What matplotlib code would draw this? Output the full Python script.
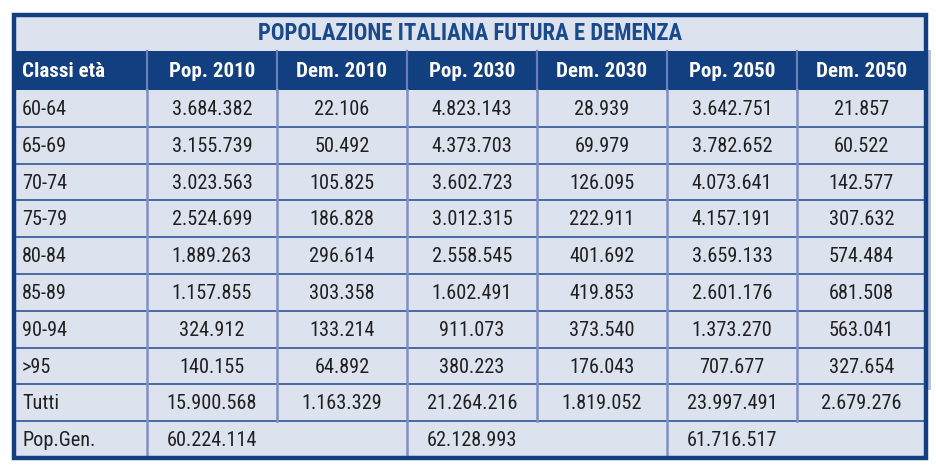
import matplotlib
matplotlib.use("Agg")
import matplotlib.pyplot as plt
from matplotlib import font_manager as fm

title = "POPOLAZIONE ITALIANA FUTURA E DEMENZA"
columns = ["Classi età", "Pop. 2010", "Dem. 2010", "Pop. 2030", "Dem. 2030", "Pop. 2050", "Dem. 2050"]
age_classes = ["60-64", "65-69", "70-74", "75-79", "80-84", "85-89", "90-94", ">95", "Tutti"]
pop_2010 = ["3.684.382", "3.155.739", "3.023.563", "2.524.699", "1.889.263", "1.157.855", "324.912", "140.155", "15.900.568"]
dem_2010 = ["22.106", "50.492", "105.825", "186.828", "296.614", "303.358", "133.214", "64.892", "1.163.329"]
pop_2030 = ["4.823.143", "4.373.703", "3.602.723", "3.012.315", "2.558.545", "1.602.491", "911.073", "380.223", "21.264.216"]
dem_2030 = ["28.939", "69.979", "126.095", "222.911", "401.692", "419.853", "373.540", "176.043", "1.819.052"]
pop_2050 = ["3.642.751", "3.782.652", "4.073.641", "4.157.191", "3.659.133", "2.601.176", "1.373.270", "707.677", "23.997.491"]
dem_2050 = ["21.857", "60.522", "142.577", "307.632", "574.484", "681.508", "563.041", "327.654", "2.679.276"]
popgen_label = "Pop.Gen."
popgen_values = ["60.224.114", "62.128.993", "61.716.517"]

# choose a condensed font if one is installed, otherwise a smaller regular one
fonts = fm.fontManager.ttflist
names = {f.name for f in fonts}
stretch = "normal"
if "Roboto Condensed" in names:
    fam, fs_data, fs_head, fs_title = "Roboto Condensed", 14.6, 15.1, 16.4
elif "Liberation Sans Narrow" in names:
    fam, fs_data, fs_head, fs_title = "Liberation Sans Narrow", 15, 15, 16
elif any(f.name == "DejaVu Sans" and str(f.stretch) in ("condensed", "semi-condensed") for f in fonts):
    fam, fs_data, fs_head, fs_title = "DejaVu Sans", 14, 14, 14.5
    stretch = "condensed"
else:
    fam, fs_data, fs_head, fs_title = "Liberation Sans", 13.5, 13.5, 14

W, H = 936, 465
fig = plt.figure(figsize=(W / 100, H / 100), dpi=100)
ax = fig.add_axes([0, 0, 1, 1])
ax.set_xlim(0, W)
ax.set_ylim(H, 0)
ax.axis("off")

bg = "#dde2ef"
dark = "#123f80"
hline_c = "#1e4a8c"
vline_c = "#8190c2"

left, right, top, bottom = 14, 926, 15, 458
title_bot = 51
head_bot = 90
col_edges = [left, 147, 277, 407, 537, 667, 797, right]
n_rows = len(age_classes) + 1
row_h = (bottom - head_bot) / n_rows
row_edges = [head_bot + i * row_h for i in range(n_rows + 1)]

# shadow at right
ax.add_patch(plt.Rectangle((right, 50), 5, 340, color="#b9c2d8", lw=0, zorder=0))
# background
ax.add_patch(plt.Rectangle((left, top), right - left, bottom - top, color=bg, lw=0, zorder=1))
# header band
ax.add_patch(plt.Rectangle((left, title_bot), right - left, head_bot - title_bot, color=dark, lw=0, zorder=2))

# horizontal lines
for y in row_edges[1:-1]:
    ax.plot([left, right], [y, y], color=hline_c, lw=1.1, zorder=3)

# vertical lines
for i, x in enumerate(col_edges[1:-1], start=1):
    ax.plot([x, x], [title_bot, head_bot], color="#6a7fb5", lw=1.6, zorder=3)
    if i in (2, 4, 6):
        ax.plot([x, x], [head_bot, row_edges[-2]], color=vline_c, lw=1.8, zorder=3)
    else:
        ax.plot([x, x], [head_bot, bottom], color=vline_c, lw=1.8, zorder=3)

# outer border
ax.add_patch(plt.Rectangle((left, top), right - left, bottom - top, fill=False,
                           edgecolor=dark, lw=3.2, zorder=5))

kw = dict(family=fam, fontstretch=stretch, va="center", zorder=6)

ax.text((left + right) / 2, (top + title_bot) / 2 + 1, title, color="#1b4a8c",
        fontsize=fs_title, fontweight="bold", ha="center", **kw)

centers = [(col_edges[i] + col_edges[i + 1]) / 2 for i in range(len(col_edges) - 1)]
head_y = (title_bot + head_bot) / 2 + 1
for i, c in enumerate(columns):
    if i == 0:
        ax.text(left + 8, head_y, c, color="white", fontsize=fs_head, fontweight="bold", ha="left", **kw)
    else:
        ax.text(centers[i], head_y, c, color="white", fontsize=fs_head, fontweight="bold", ha="center", **kw)

series = [pop_2010, dem_2010, pop_2030, dem_2030, pop_2050, dem_2050]
txt_c = "#202020"
for r, lab in enumerate(age_classes):
    y = (row_edges[r] + row_edges[r + 1]) / 2 + 1
    ax.text(left + 8, y, lab, color=txt_c, fontsize=fs_data, ha="left", **kw)
    for j, s in enumerate(series):
        ax.text(centers[j + 1], y, s[r], color=txt_c, fontsize=fs_data, ha="center", **kw)

y = (row_edges[-2] + row_edges[-1]) / 2 + 1
ax.text(left + 8, y, popgen_label, color=txt_c, fontsize=fs_data, ha="left", **kw)
for k, v in enumerate(popgen_values):
    ax.text(centers[1 + 2 * k], y, v, color=txt_c, fontsize=fs_data, ha="center", **kw)

fig.savefig("out.png", dpi=100, facecolor="white")
